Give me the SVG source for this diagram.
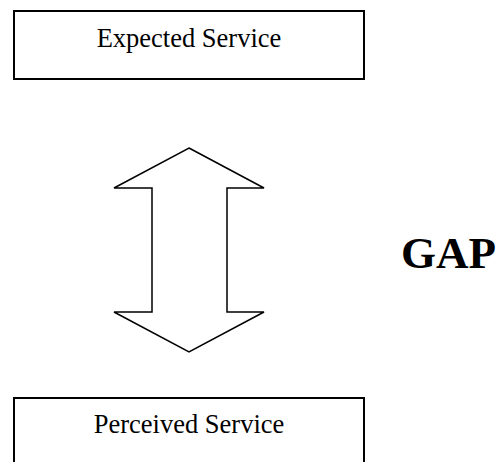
<svg xmlns="http://www.w3.org/2000/svg" width="503" height="462" viewBox="0 0 503 462">
<style>
.box{fill:#fff;stroke:#000;stroke-width:2}
.lbl{font-family:"Liberation Serif","Times New Roman",serif;font-size:26.5px;fill:#000;text-anchor:middle}
.gap{font-family:"Liberation Serif","Times New Roman",serif;font-size:45px;font-weight:bold;fill:#000}
.arrow{fill:#fff;stroke:#000;stroke-width:1.5;stroke-linejoin:miter}
</style>
<rect x="0" y="0" width="503" height="462" fill="#fff"/>
<g id="expected">
<rect class="box" x="14" y="11" width="350" height="68"/>
<text class="lbl" x="189" y="47">Expected Service</text>
</g>
<g id="connectors">
<polygon class="arrow" points="189,148 264,188 227,188 227,312 264,312 189,352 114,312 152,312 152,188 114,188"/>
</g>
<g id="gap">
<text class="gap" x="401" y="268">GAP</text>
</g>
<g id="perceived">
<rect class="box" x="14" y="398" width="350" height="80"/>
<text class="lbl" x="189" y="433">Perceived Service</text>
</g>
</svg>
